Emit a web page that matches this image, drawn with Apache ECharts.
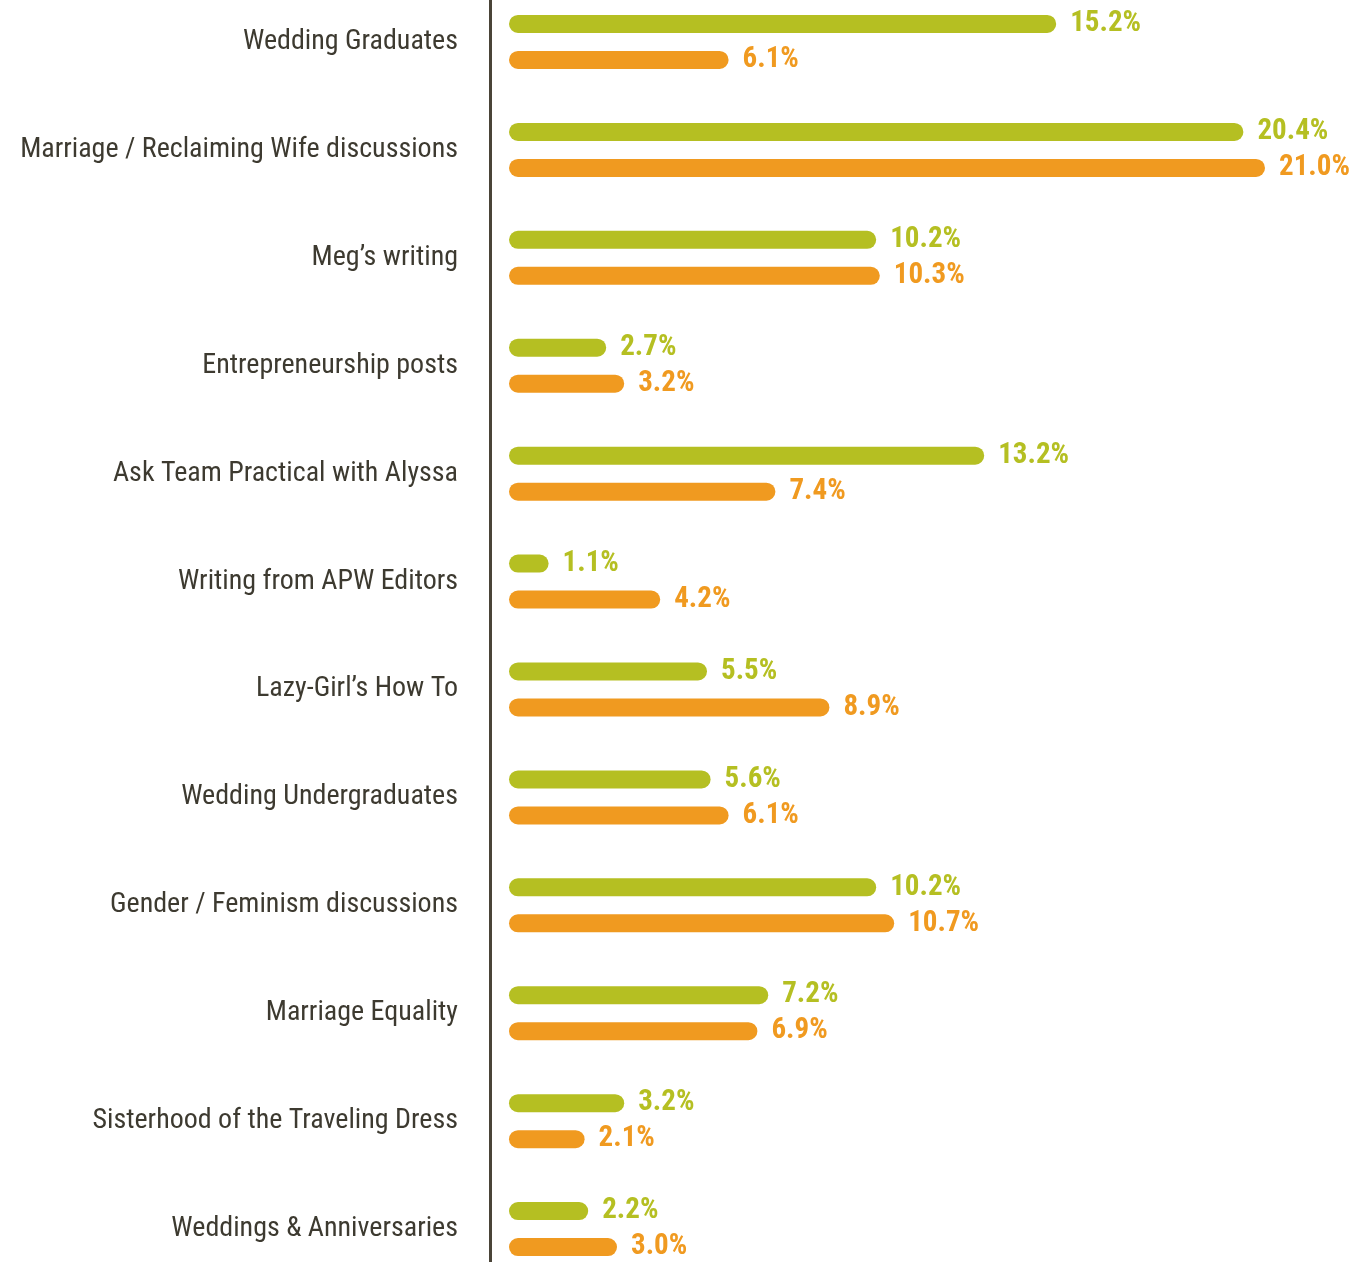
<!DOCTYPE html>
<html>
<head>
<meta charset="utf-8">
<script src="https://cdn.jsdelivr.net/npm/echarts@6/dist/echarts.min.js"></script>
<style>
html, body { margin: 0; padding: 0; background: #fff; }
#main { width: 1372px; height: 1262px; }
</style>
</head>
<body>
<div id="main"></div>
<script>
// 分类
var categories = [
    'Wedding Graduates',
    'Marriage / Reclaiming Wife discussions',
    'Meg\u2019s writing',
    'Entrepreneurship posts',
    'Ask Team Practical with Alyssa',
    'Writing from APW Editors',
    'Lazy-Girl\u2019s How To',
    'Wedding Undergraduates',
    'Gender / Feminism discussions',
    'Marriage Equality',
    'Sisterhood of the Traveling Dress',
    'Weddings & Anniversaries'
];

// 绿色系列
var greenValues = [15.2, 20.4, 10.2, 2.7, 13.2, 1.1, 5.5, 5.6, 10.2, 7.2, 3.2, 2.2];
// 橙色系列
var orangeValues = [6.1, 21.0, 10.3, 3.2, 7.4, 4.2, 8.9, 6.1, 10.7, 6.9, 2.1, 3.0];

var GREEN = '#b5bf22';
var ORANGE = '#f09a20';
var FONT = '"Roboto Condensed", "Liberation Sans Narrow", "DejaVu Sans Condensed", sans-serif';

function barSeries (name, data, color) {
    return {
        name: name,
        type: 'bar',
        data: data,
        barWidth: 18,
        barGap: '100%',
        itemStyle: {
            color: color,
            borderRadius: 9
        },
        label: {
            show: true,
            position: 'right',
            distance: 14,
            color: color,
            fontFamily: FONT,
            fontSize: 29,
            fontWeight: 'bold',
            formatter: function (p) {
                return p.value.toFixed(1) + '%';
            }
        }
    };
}

var chart = echarts.init(document.getElementById('main'));
var option = {
    animation: false,
    grid: {
        left: 490,
        top: -12,
        width: 883,
        height: 1295,
        containLabel: false,
        outerBoundsMode: 'none'
    },
    // 0 对应 x=509，轴线在 x=490
    xAxis: {
        type: 'value',
        min: -19 / 36,
        max: 24,
        show: false
    },
    yAxis: {
        type: 'category',
        inverse: true,
        data: categories,
        axisLine: {
            show: true,
            onZero: false,
            lineStyle: { color: '#4a4438', width: 3 }
        },
        axisTick: { show: false },
        splitLine: { show: false },
        axisLabel: {
            margin: 32,
            color: '#3d3a30',
            fontFamily: FONT,
            fontSize: 28
        }
    },
    series: [
        barSeries('green', greenValues, GREEN),
        barSeries('orange', orangeValues, ORANGE)
    ]
};
chart.setOption(option);
window.onresize = function () {
    chart.resize();
};
</script>
</body>
</html>
